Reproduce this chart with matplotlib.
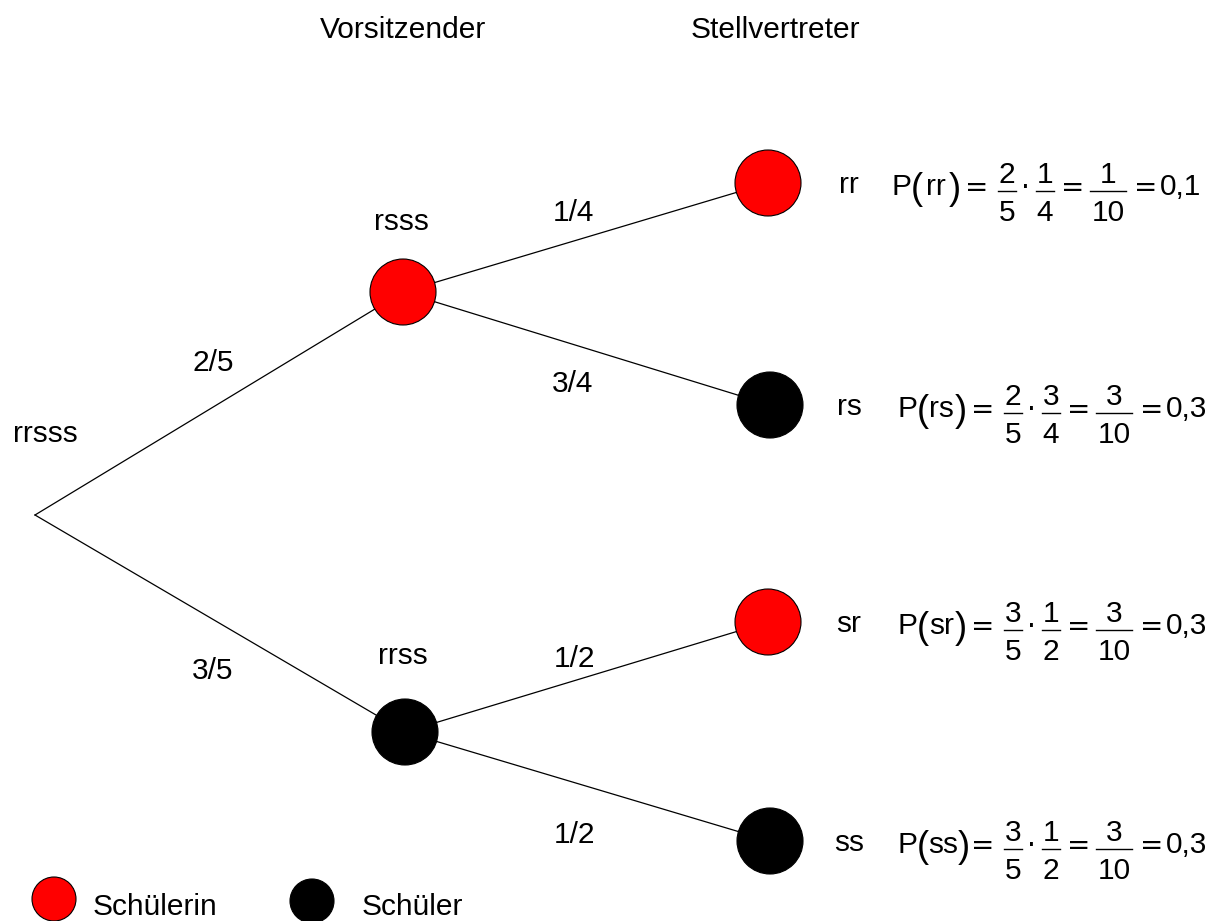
import matplotlib
matplotlib.use("Agg")
import matplotlib.pyplot as plt
from matplotlib.patches import Circle

plt.rcParams["font.family"] = ["Liberation Sans", "DejaVu Sans"]

# data
stages = ["Vorsitzender", "Stellvertreter"]
root_label = "rrsss"
first_labels = ["rsss", "rrss"]
first_probs = ["2/5", "3/5"]
first_colors = ["#ff0000", "#000000"]
second_labels = ["rr", "rs", "sr", "ss"]
second_probs = ["1/4", "3/4", "1/2", "1/2"]
second_colors = ["#ff0000", "#000000", "#ff0000", "#000000"]
# P = a/b * c/d = e/f = result
fractions = [(2, 5, 1, 4, 1, 10), (2, 5, 3, 4, 3, 10),
             (3, 5, 1, 2, 3, 10), (3, 5, 1, 2, 3, 10)]
results = ["0,1", "0,3", "0,3", "0,3"]
legend_labels = ["Schülerin", "Schüler"]
legend_colors = ["#ff0000", "#000000"]

W, H = 1217, 921
fig = plt.figure(figsize=(W / 100, H / 100), dpi=100)
ax = fig.add_axes([0, 0, 1, 1])
ax.set_xlim(0, W)
ax.set_ylim(H, 0)
ax.axis("off")

fs = 21.5
em = fs * 100 / 72
root = (35, 515)
first_pos = [(403, 292), (405, 732)]
second_pos = [(768, 183), (770, 405), (768, 622), (770, 841)]
r = 33
char_w = {"r": 333, "s": 500}


def txt(x, y, s, ha="center", size=fs, family=None):
    kw = {"family": family} if family else {}
    ax.text(x, y, s, fontsize=size, ha=ha, va="baseline", **kw)


def frac(xc, bar_y, num, den):
    txt(xc, bar_y - 8, str(num))
    txt(xc, bar_y + 30, str(den))
    half = 9 if max(num, den) < 10 else 18
    ax.plot([xc - half, xc + half], [bar_y, bar_y], color="black", lw=1.0)


# header
txt(403, 38, stages[0])
txt(775, 38, stages[1])

txt(13, 442, root_label, ha="left")

# first level
first_prob_pos = [(213, 371), (213, 679)]
first_label_pos = [(401, 230), (403, 664)]
for i in range(2):
    x, y = first_pos[i]
    ax.plot([root[0], x], [root[1], y], color="black", lw=0.9, zorder=1)
    ax.add_patch(Circle((x, y), r, facecolor=first_colors[i], edgecolor="black",
                        lw=0.8, zorder=3))
    txt(*first_prob_pos[i], first_probs[i])
    txt(*first_label_pos[i], first_labels[i])

# second level
second_prob_pos = [(573, 221), (573, 392), (575, 667), (575, 843)]
formula_x = [892, 898, 898, 898]
for j in range(4):
    px, py = first_pos[j // 2]
    x, y = second_pos[j]
    ax.plot([px, x], [py, y], color="black", lw=0.9, zorder=1)
    ax.add_patch(Circle((x, y), r, facecolor=second_colors[j], edgecolor="black",
                        lw=0.8, zorder=3))
    txt(*second_prob_pos[j], second_probs[j])
    txt(849, y + 10, second_labels[j])

    # formula P(..) = a/b . c/d = e/f = result
    X = formula_x[j]
    base = y + 12
    bar = base - 4
    a, b, c, d, e, f = fractions[j]
    lab = second_labels[j]
    lab_w = sum(char_w[ch] for ch in lab) * em / 1000
    close_x = max(X + 57, X + 30 + lab_w)
    txt(X, base, "P", ha="left")
    txt(X + 19, base + 4, "(", ha="left", size=26)
    txt((X + 29 + close_x + 1) / 2, base, lab)
    txt(close_x, base + 4, ")", ha="left", size=26)
    txt(X + 85, base + 1, "=", size=20, family="DejaVu Sans")
    frac(X + 115, bar, a, b)
    txt(X + 133, base + 1, "\u00b7", size=20, family="DejaVu Sans")
    frac(X + 153, bar, c, d)
    txt(X + 181, base + 1, "=", size=20, family="DejaVu Sans")
    frac(X + 216, bar, e, f)
    txt(X + 254, base + 1, "=", size=20, family="DejaVu Sans")
    txt(X + 268, base, results[j], ha="left")

# legend
legend_pos = [(54, 899), (312, 901)]
legend_text_x = [93, 362]
for k in range(2):
    ax.add_patch(Circle(legend_pos[k], 22, facecolor=legend_colors[k],
                        edgecolor="black", lw=0.8, zorder=3))
    txt(legend_text_x[k], 915, legend_labels[k], ha="left")

fig.savefig("out.png", dpi=100, facecolor="white")
